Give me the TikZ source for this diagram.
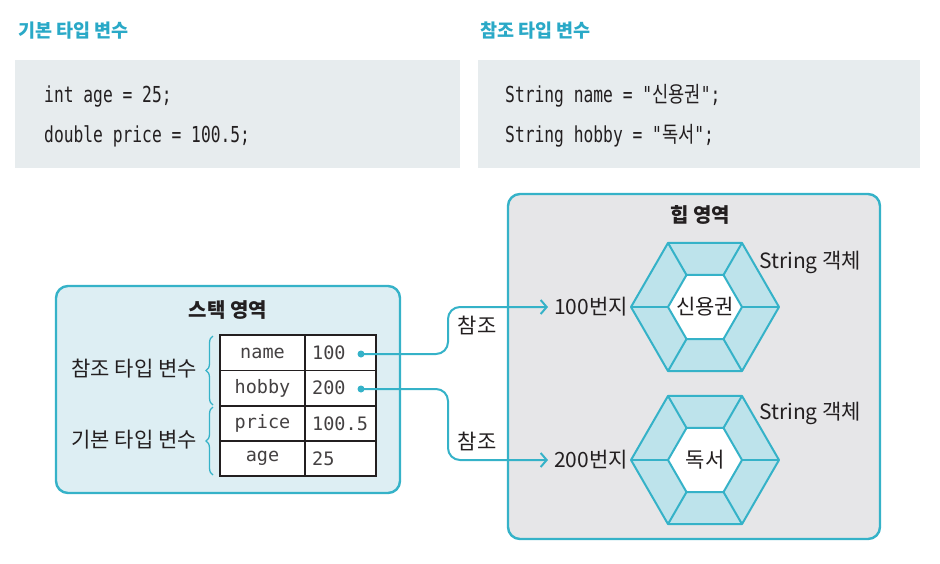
\documentclass[tikz,border=0pt]{standalone}
\usepackage{fontspec}
\setmainfont{Noto Sans CJK KR}
\newfontfamily\codefont[FakeStretch=0.74]{DejaVu Sans Mono}
\newfontfamily\codecjk[FakeStretch=0.8]{Noto Sans CJK KR}
\newfontfamily\tabfont{DejaVu Sans Mono}
\usetikzlibrary{arrows.meta,decorations.pathreplacing,calc}
\definecolor{cyanline}{HTML}{35B2C8}
\definecolor{titlecol}{HTML}{2AA9C7}
\definecolor{stackfill}{HTML}{DDEEF3}
\definecolor{heapfill}{HTML}{E6E6E8}
\definecolor{codefill}{HTML}{E7ECEE}
\definecolor{bandfill}{HTML}{BDE3EB}
\definecolor{txt}{HTML}{231F20}
\newcommand\hexobj[2]{%
  \begin{scope}[shift={(#1,#2)}]
    \fill[bandfill] (0:74) -- (60:74) -- (120:74) -- (180:74) -- (240:74) -- (300:74) -- cycle;
    \fill[white] (0:37) -- (60:37) -- (120:37) -- (180:37) -- (240:37) -- (300:37) -- cycle;
    \foreach \a in {0,60,...,300} \draw[hexline] (\a:37) -- (\a:74);
    \draw[hexline] (0:74) -- (60:74) -- (120:74) -- (180:74) -- (240:74) -- (300:74) -- cycle;
    \draw[hexline] (0:37) -- (60:37) -- (120:37) -- (180:37) -- (240:37) -- (300:37) -- cycle;
  \end{scope}}
\begin{document}
\begin{tikzpicture}[x=1pt,y=-1pt,
  title/.style={font=\fontsize{18.5}{22}\selectfont\bfseries, text=titlecol, inner sep=0pt},
  codebox/.style={fill=codefill, draw=none},
  code/.style={font=\codefont\fontsize{22}{26}\selectfont, text=txt, inner sep=0pt},
  area/.style={draw=cyanline, line width=2.4pt, rounded corners=12pt},
  areatitle/.style={font=\fontsize{20}{24}\selectfont\bfseries, text=txt, inner sep=0pt},
  lab/.style={font=\fontsize{21}{25}\selectfont, text=txt, inner sep=1pt},
  cell/.style={font=\tabfont\fontsize{18.5}{22}\selectfont, text=txt!85, inner sep=0pt},
  hexline/.style={draw=cyanline, line width=2pt, line join=round},
  conn/.style={draw=cyanline, line width=2pt, rounded corners=12pt},
  tip/.style={-{Straight Barb[length=6pt,width=14pt]}},
  dot/.style={circle, fill=cyanline, inner sep=0pt, minimum size=7pt},
  bracestyle/.style={draw=cyanline, line width=1.3pt, decorate, decoration={brace, amplitude=7pt}}
]
\useasboundingbox (0,0) rectangle (940,563);

% top titles
\node[title, anchor=west] (t1) at (18,31) {기본 타입 변수};
\node[title, anchor=west] (t2) at (480,31) {참조 타입 변수};

% code boxes
\fill[codebox] (15,60) rectangle (460,168);
\fill[codebox] (478,60) rectangle (920,168);
\node[code, anchor=base west] (c1) at (44,102) {int age = 25;};
\node[code, anchor=base west] (c2) at (44,142) {double price = 100.5;};
\node[code, anchor=base west] (c3) at (505,102) {String name = "{\codecjk 신용권}";};
\node[code, anchor=base west] (c4) at (505,142) {String hobby = "{\codecjk 독서}";};

% stack area
\draw[area, fill=stackfill] (56,286) rectangle (400,493);
\node[areatitle] (st) at (228,310) {스택 영역};

% table
\fill[white] (220,335) rectangle (376,476);
\draw[line width=1.2pt, txt] (220,370.5) -- (376,370.5) (220,406) -- (376,406) (220,441) -- (376,441) (305,335) -- (305,476);
\draw[line width=2pt, txt] (220,335) rectangle (376,476);
\node[cell] (k1) at (262.5,353) {name};
\node[cell] (k2) at (262.5,388) {hobby};
\node[cell] (k3) at (262.5,423.5) {price};
\node[cell] (k4) at (262.5,458.5) {age};
\node[cell, anchor=west] (v1) at (312,353) {100};
\node[cell, anchor=west] (v2) at (312,388) {200};
\node[cell, anchor=west] (v3) at (312,423.5) {100.5};
\node[cell, anchor=west] (v4) at (312,458.5) {25};
\node[dot] (d1) at (361,354) {};
\node[dot] (d2) at (361,389) {};

% braces
\draw[bracestyle] (213,405) -- (213,336);
\node[lab, anchor=east] (b1) at (198,369) {참조 타입 변수};
\draw[bracestyle] (213,475) -- (213,407);
\node[lab, anchor=east] (b2) at (198,440) {기본 타입 변수};

% heap area
\draw[area, fill=heapfill] (508,194) rectangle (880,539);
\node[areatitle] (hp) at (700,215) {힙 영역};

\hexobj{705}{307}
\hexobj{705}{460}
\node[lab] (h1) at (705,307) {신용권};
\node[lab] (h2) at (705,460) {독서};
\node[lab, anchor=west] (s1) at (758,262) {String 객체};
\node[lab, anchor=west] (s2) at (758,413) {String 객체};
\node[lab, anchor=east] (a1) at (629,307) {100번지};
\node[lab, anchor=east] (a2) at (629,460) {200번지};

% connectors
\coordinate (m1) at (448,354);
\coordinate (m2) at (448,389);
\draw[conn, tip, shorten >=5pt] (d1.center) -- (m1) -- (m1 |- a1.west) -- (a1.west);
\draw[conn, tip, shorten >=5pt] (d2.center) -- (m2) -- (m2 |- a2.west) -- (a2.west);
\node[lab] (r1) at (477,325) {참조};
\node[lab] (r2) at (477,441) {참조};
\end{tikzpicture}
\end{document}
